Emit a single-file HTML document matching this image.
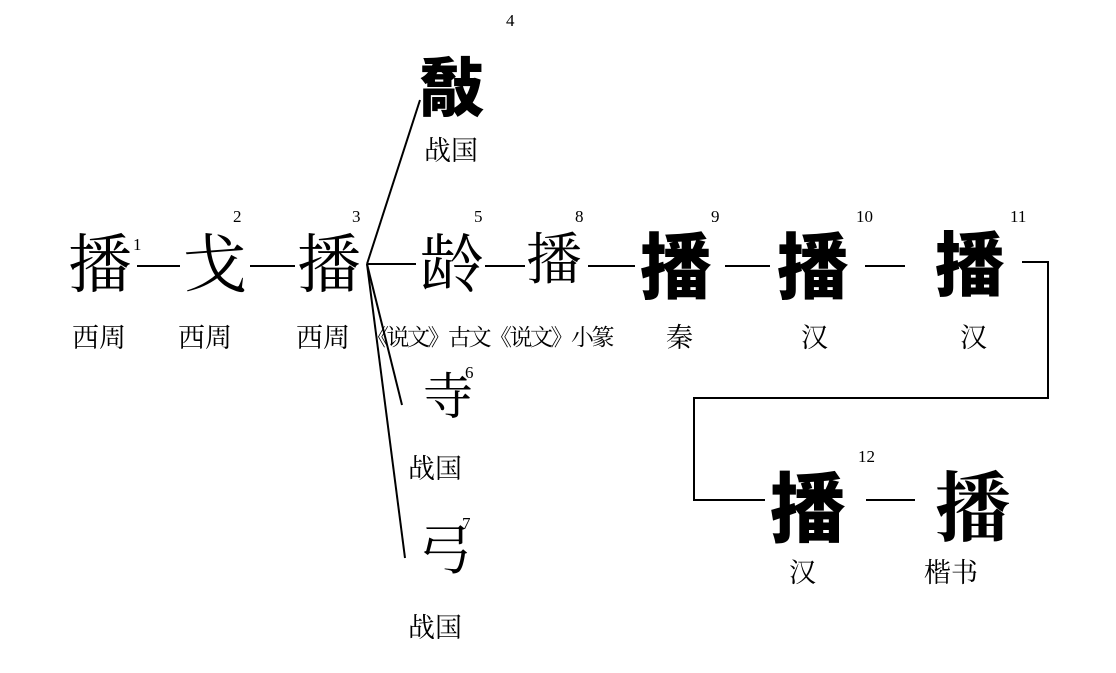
<!DOCTYPE html>
<html><head><meta charset="utf-8"><style>
html,body{margin:0;padding:0;background:#fff;}
body{width:1116px;height:673px;position:relative;overflow:hidden;font-family:"Liberation Serif","Noto Serif CJK SC",serif;color:#000;}
.c{position:absolute;font-size:64px;line-height:1;font-family:"Noto Serif CJK SC",serif;}
.b{font-weight:900;font-family:"Noto Sans CJK SC",sans-serif;}
.n{position:absolute;font-size:17px;line-height:1;}
.l{position:absolute;font-size:27px;line-height:1;font-family:"Noto Serif CJK SC",serif;white-space:nowrap;}
svg{position:absolute;left:0;top:0;}
</style></head><body>
<svg width="1116" height="673">
<g stroke="#000" stroke-width="2" fill="none">
<line x1="137" y1="266" x2="180" y2="266"/>
<line x1="250" y1="266" x2="295" y2="266"/>
<line x1="367" y1="264" x2="420" y2="100"/>
<line x1="367" y1="264" x2="416" y2="264"/>
<line x1="367" y1="264" x2="402" y2="405"/>
<line x1="367" y1="264" x2="405" y2="558"/>
<line x1="485" y1="266" x2="525" y2="266"/>
<line x1="588" y1="266" x2="635" y2="266"/>
<line x1="725" y1="266" x2="770" y2="266"/>
<line x1="865" y1="266" x2="905" y2="266"/>
<polyline points="1022,262 1048,262 1048,398 694,398 694,500 765,500"/>
<line x1="866" y1="500" x2="915" y2="500"/>
</g></svg>
<div class="c" style="left:68px;top:228px">播</div><div class="n" style="left:133px;top:236px">1</div>
<div class="c" style="left:183px;top:228px">戈</div><div class="n" style="left:233px;top:208px">2</div>
<div class="c" style="left:297px;top:228px">播</div><div class="n" style="left:352px;top:208px">3</div>
<div class="c b" style="left:420px;top:52px">敽</div><div class="n" style="left:506px;top:12px">4</div>
<div class="l" style="left:424px;top:135px">战国</div>
<div class="c" style="left:420px;top:228px">龄</div><div class="n" style="left:474px;top:208px">5</div>
<div class="c" style="left:526px;top:228px;font-size:56px">播</div><div class="n" style="left:575px;top:208px">8</div>
<div class="c b" style="left:640px;top:226px;font-size:72px">播</div><div class="n" style="left:711px;top:208px">9</div>
<div class="c b" style="left:777px;top:226px;font-size:72px">播</div><div class="n" style="left:856px;top:208px">10</div>
<div class="c b" style="left:935px;top:226px;font-size:70px">播</div><div class="n" style="left:1010px;top:208px">11</div>
<div class="c" style="left:423px;top:368px;font-size:50px">寺</div><div class="n" style="left:465px;top:364px">6</div>
<div class="l" style="left:408px;top:453px">战国</div>
<div class="c" style="left:418px;top:520px;font-size:54px">弓</div><div class="n" style="left:462px;top:515px">7</div>
<div class="l" style="left:408px;top:612px">战国</div>
<div class="c b" style="left:770px;top:465px;font-size:76px">播</div><div class="n" style="left:858px;top:448px">12</div>
<div class="c" style="left:935px;top:465px;font-size:76px;font-weight:700">播</div>
<div class="l" style="left:72px;top:322px">西周</div>
<div class="l" style="left:178px;top:322px">西周</div>
<div class="l" style="left:296px;top:322px">西周</div>
<div class="l" style="left:366px;top:324px;font-size:23px;letter-spacing:-2.5px">《说文》古文《说文》小篆</div>
<div class="l" style="left:666px;top:322px">秦</div>
<div class="l" style="left:801px;top:322px">汉</div>
<div class="l" style="left:960px;top:322px">汉</div>
<div class="l" style="left:789px;top:557px">汉</div>
<div class="l" style="left:924px;top:557px">楷书</div>
</body></html>
